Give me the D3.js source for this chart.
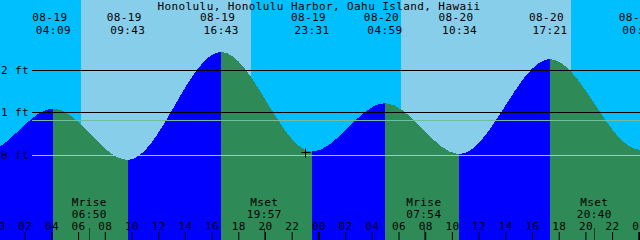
<!DOCTYPE html>
<html><head><meta charset="utf-8">
<script src="https://cdn.jsdelivr.net/npm/d3@7"></script>
<style>
html,body{margin:0;padding:0;background:#fff;}
svg{display:block;}
text{font-family:"DejaVu Sans Mono",monospace;font-size:11px;letter-spacing:0.4px;fill:#000;}
</style></head>
<body>
<script>
// ---- data ----
const title = "Honolulu, Honolulu Harbor, Oahu Island, Hawaii";
const tideTimes  = ["08-18 16:05","08-18 22:55","08-19 04:09","08-19 09:43","08-19 16:43","08-19 23:31","08-20 04:59","08-20 10:34","08-20 17:21","08-21 00:05","08-21 05:50"];
const tideLevels = [2.50, 0.05, 1.10, -0.12, 2.44, 0.08, 1.23, 0.02, 2.27, 0.12, 1.30];
const sunTimes   = ["08-19 06:13","08-19 18:57","08-20 06:12","08-20 18:55"]; // rise,set,rise,set
const moonTimes  = ["08-19 06:50","08-19 19:57","08-20 07:54","08-20 20:40"];
const moonLabels = ["Mrise","Mset","Mrise","Mset"];
const depthLines = [0, 1, 2];
const depthLabels = ["0 ft","1 ft","2 ft"];
const mslLevel = 0.81;
const nowTime = "08-19 23:00";
const nowLevel = 0.07;

const W = 640, H = 240;
const parse = d3.timeParse("%m-%d %H:%M");
const tt = tideTimes.map(parse);
const x = d3.scaleTime().domain([parse("08-19 00:00"), parse("08-21 00:00")]).range([-2, 638.8]);
const y = d3.scaleLinear().domain([0, 2]).range([155, 70.5]);

const svg = d3.select("body").append("svg").attr("width", W).attr("height", H);

// background night / day
svg.append("rect").attr("width", W).attr("height", H).attr("fill", "#00BFFF");
for (let i = 0; i < sunTimes.length; i += 2) {
  const a = Math.round(x(parse(sunTimes[i]))), b = Math.round(x(parse(sunTimes[i+1])));
  svg.append("rect").attr("x", a).attr("y", 0).attr("width", b - a).attr("height", H)
    .attr("fill", "#87CEEB").attr("shape-rendering", "crispEdges");
}

// tide area, blue when rising, green when falling
const pts = tt.map((t, i) => [t, tideLevels[i]]);
const area = d3.area().x(d => x(d[0])).y0(H).y1(d => y(d[1])).curve(d3.curveMonotoneX);
const defs = svg.append("defs");
for (let i = 0; i < pts.length - 1; i++) {
  const a = Math.round(x(tt[i])), b = Math.round(x(tt[i+1]));
  defs.append("clipPath").attr("id", "seg" + i)
    .append("rect").attr("x", a).attr("y", 0).attr("width", b - a).attr("height", H);
  svg.append("path").datum(pts).attr("d", area)
    .attr("clip-path", `url(#seg${i})`)
    .attr("fill", tideLevels[i+1] > tideLevels[i] ? "#0000FF" : "#2E8B57")
    .attr("shape-rendering", "crispEdges");
}

// depth lines
const lineY = v => Math.floor(y(v)) + 0.5;
depthLines.forEach((v, i) => {
  svg.append("line").attr("x1", 32).attr("x2", W).attr("y1", lineY(v)).attr("y2", lineY(v))
    .attr("stroke", v === 0 ? "#87CEEB" : "#000").attr("stroke-width", 1);
  svg.append("text").attr("x", 1).attr("y", lineY(v) + 3.5).text(depthLabels[i]);
});
svg.append("line").attr("x1", 32).attr("x2", W).attr("y1", lineY(mslLevel)).attr("y2", lineY(mslLevel))
  .attr("stroke", "#6EBE9F").attr("stroke-width", 1);

// now marker
const nx = Math.round(x(parse(nowTime))) + 0.5, ny = Math.round(y(nowLevel)) + 0.5;
svg.append("path").attr("d", `M${nx-4},${ny}H${nx+5}M${nx},${ny-4}V${ny+5}`)
  .attr("stroke", "#000").attr("stroke-width", 1);

// title
svg.append("text").attr("x", 319).attr("y", 10).attr("text-anchor", "middle").text(title);

// tide event labels (only those reaching into the view)
const fDate = d3.timeFormat("%m-%d"), fTime = d3.timeFormat("%H:%M");
tt.forEach(t => {
  const px = x(t);
  if (px < -20 || px > W + 20) return;
  svg.append("text").attr("x", px - 3.5).attr("y", 21).attr("text-anchor", "middle").text(fDate(t));
  svg.append("text").attr("x", px).attr("y", 33.5).attr("text-anchor", "middle").text(fTime(t));
});

// bottom hour axis
const axis = d3.axisTop(x).ticks(d3.timeHour.every(2)).tickSize(8).tickPadding(2.5)
  .tickFormat(d3.timeFormat("%H"));
const g = svg.append("g").attr("transform", `translate(0,${H})`).call(axis);
g.select(".domain").remove();
g.selectAll(".tick line").attr("stroke", "#000")
  .attr("stroke-width", d => d.getHours() === 0 ? 2 : 1);
g.selectAll(".tick text").style("font-family", "DejaVu Sans Mono, monospace").style("font-size", "11px").attr("fill", "#000");

// moon events
moonTimes.forEach((s, i) => {
  const t = parse(s), px = x(t);
  svg.append("line").attr("x1", Math.round(px) + 0.5).attr("x2", Math.round(px) + 0.5)
    .attr("y1", 228).attr("y2", H).attr("stroke", "#000").attr("stroke-opacity", 0.55);
  svg.append("text").attr("x", px).attr("y", 206).attr("text-anchor", "middle").text(moonLabels[i]);
  svg.append("text").attr("x", px).attr("y", 217.5).attr("text-anchor", "middle").text(fTime(t));
});
</script>
</body></html>
